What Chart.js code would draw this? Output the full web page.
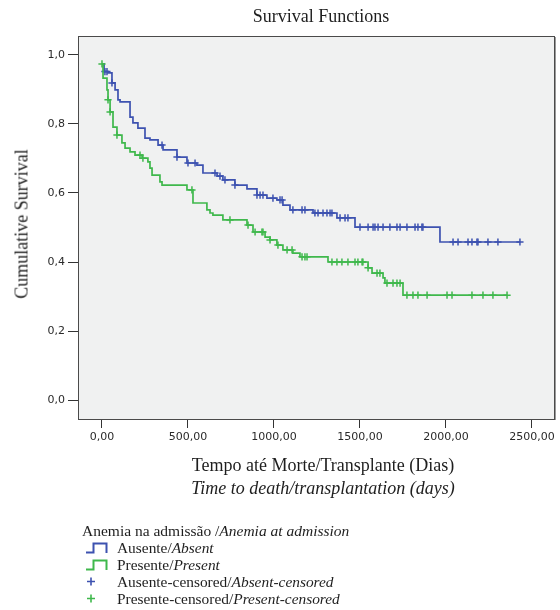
<!DOCTYPE html>
<html>
<head>
<meta charset="utf-8">
<script src="https://cdn.jsdelivr.net/npm/chart.js@4/dist/chart.umd.min.js"></script>
<style>
  html, body { margin: 0; padding: 0; background: #ffffff; }
  #wrap { position: relative; width: 560px; height: 610px; overflow: hidden; }
  #chart { position: absolute; left: 0; top: 0; }
  .t { position: absolute; font-family: "Liberation Serif", "Times New Roman", serif; color: #1e1e1e; white-space: nowrap; }
  .c { transform: translate(-50%, -50%); }
  #title { left: 321px; top: 16px; font-size: 18px; }
  #ytitle { left: 22px; top: 224px; font-size: 18px; transform: translate(-50%, -50%) rotate(-90deg); }
  #xt1 { left: 323px; top: 465px; font-size: 18px; }
  #xt2 { left: 323px; top: 488px; font-size: 18px; font-style: italic; }
  .leg { font-size: 15.4px; left: 117px; transform: translateY(-50%); }
  #legtitle { left: 82px; top: 531px; font-size: 15.5px; transform: translateY(-50%); }
  svg.ic { position: absolute; }
</style>
</head>
<body>
<div id="wrap">
  <canvas id="chart" width="560" height="610"></canvas>
  <div id="title" class="t c">Survival Functions</div>
  <div id="ytitle" class="t">Cumulative Survival</div>
  <div id="xt1" class="t c">Tempo até Morte/Transplante (Dias)</div>
  <div id="xt2" class="t c">Time to death/transplantation (days)</div>
  <div id="legtitle" class="t">Anemia na admissão /<i>Anemia at admission</i></div>

  <svg class="ic" style="left:84px;top:540px" width="26" height="16">
    <polyline points="2,12.5 9.5,12.5 9.5,3.5 22.5,3.5 22.5,13" fill="none" stroke="#3d52b0" stroke-width="2"/>
  </svg>
  <div class="t leg" style="top:548px">Ausente/<i>Absent</i></div>

  <svg class="ic" style="left:84px;top:557px" width="26" height="16">
    <polyline points="2,12.5 9.5,12.5 9.5,3.5 22.5,3.5 22.5,13" fill="none" stroke="#3fb84c" stroke-width="2"/>
  </svg>
  <div class="t leg" style="top:565px">Presente/<i>Present</i></div>

  <svg class="ic" style="left:84px;top:574px" width="16" height="16">
    <path d="M7,3.5 V11.5 M3,7.5 H11" stroke="#3d52b0" stroke-width="1.6" fill="none"/>
  </svg>
  <div class="t leg" style="top:582px">Ausente-censored/<i>Absent-censored</i></div>

  <svg class="ic" style="left:84px;top:591px" width="16" height="16">
    <path d="M7,3.5 V11.5 M3,7.5 H11" stroke="#3fb84c" stroke-width="1.6" fill="none"/>
  </svg>
  <div class="t leg" style="top:599px">Presente-censored/<i>Present-censored</i></div>
</div>

<script>
// Kaplan-Meier estimates by anemia at admission: days of each step and survival after it
const absentDays = [0, 12, 35, 58, 76, 93, 105, 163, 180, 209, 250, 279, 326, 355, 436, 494, 552, 587, 669, 703, 773, 843, 901, 959, 1017, 1052, 1093, 1227, 1366, 1471, 1965];
const absentSurvival = [0.974, 0.952, 0.948, 0.919, 0.899, 0.870, 0.864, 0.820, 0.803, 0.788, 0.759, 0.754, 0.739, 0.725, 0.704, 0.687, 0.681, 0.658, 0.649, 0.638, 0.623, 0.612, 0.594, 0.585, 0.580, 0.565, 0.551, 0.542, 0.528, 0.501, 0.458];
const absentCensored = [17, 29, 58, 349, 436, 500, 541, 657, 686, 715, 773, 901, 919, 936, 994, 1035, 1047, 1110, 1163, 1180, 1238, 1256, 1285, 1308, 1326, 1337, 1384, 1413, 1430, 1500, 1547, 1576, 1587, 1605, 1634, 1674, 1715, 1733, 1773, 1820, 1837, 1860, 1866, 2041, 2070, 2128, 2151, 2180, 2186, 2244, 2302, 2430];

const presentDays = [0, 6, 29, 35, 47, 64, 87, 116, 134, 163, 192, 233, 267, 279, 291, 337, 349, 494, 529, 610, 628, 645, 703, 843, 878, 948, 977, 1017, 1052, 1110, 1151, 1314, 1547, 1570, 1634, 1645, 1750];
const presentSurvival = [0.974, 0.933, 0.899, 0.870, 0.835, 0.791, 0.768, 0.745, 0.730, 0.719, 0.710, 0.701, 0.690, 0.672, 0.652, 0.632, 0.623, 0.609, 0.571, 0.551, 0.542, 0.536, 0.522, 0.507, 0.487, 0.472, 0.464, 0.449, 0.435, 0.426, 0.415, 0.400, 0.383, 0.368, 0.354, 0.339, 0.304];
const presentCensored = [0, 35, 47, 87, 221, 238, 523, 744, 849, 890, 930, 936, 977, 1023, 1076, 1105, 1163, 1180, 1192, 1337, 1366, 1395, 1430, 1471, 1488, 1512, 1517, 1547, 1599, 1616, 1657, 1692, 1715, 1733, 1773, 1808, 1837, 1890, 2006, 2035, 2151, 2215, 2273, 2355];

const xTickValues = [0, 500, 1000, 1500, 2000, 2500];
const yTickValues = [0, 0.2, 0.4, 0.6, 0.8, 1.0];

const BLUE = '#3d52b0';
const GREEN = '#3fb84c';

// survival value in force at a given day (step function)
function survivalAt(days, surv, t) {
  let s = surv[0];
  for (let i = 0; i < days.length; i++) if (days[i] <= t) s = surv[i];
  return s;
}
function stepPoints(days, surv, censored) {
  const pts = days.map((d, i) => ({ x: d, y: surv[i] }));
  const end = Math.max(...censored);
  if (end > days[days.length - 1]) pts.push({ x: end, y: surv[surv.length - 1] });
  return pts;
}
function censorPoints(days, surv, censored) {
  return censored.map(t => ({ x: t, y: survivalAt(days, surv, t) }));
}

const plotFrame = {
  id: 'plotFrame',
  beforeDraw(chart) {
    const { ctx, chartArea: a } = chart;
    ctx.save();
    ctx.fillStyle = '#f0f1f1';
    ctx.fillRect(a.left, a.top, a.right - a.left, a.bottom - a.top);
    ctx.restore();
  },
  afterDraw(chart) {
    const { ctx, chartArea: a } = chart;
    ctx.save();
    ctx.strokeStyle = '#4a4a4a';
    ctx.lineWidth = 1;
    ctx.strokeRect(Math.round(a.left) + 0.5, Math.round(a.top) + 0.5, Math.round(a.right - a.left), Math.round(a.bottom - a.top));
    ctx.strokeStyle = '#9a9a9a';
    ctx.beginPath();
    ctx.moveTo(Math.round(a.right) + 1.5, Math.round(a.top) + 1);
    ctx.lineTo(Math.round(a.right) + 1.5, Math.round(a.bottom) + 1);
    ctx.stroke();
    ctx.restore();
  }
};

const tickFont = { family: '"DejaVu Sans", "Liberation Sans", sans-serif', size: 11 };

new Chart(document.getElementById('chart'), {
  type: 'line',
  data: {
    datasets: [
      { label: 'Ausente/Absent', data: stepPoints(absentDays, absentSurvival, absentCensored),
        borderColor: BLUE, borderWidth: 1.7, stepped: 'before', pointRadius: 0, fill: false, order: 2 },
      { label: 'Presente/Present', data: stepPoints(presentDays, presentSurvival, presentCensored),
        borderColor: GREEN, borderWidth: 1.7, stepped: 'before', pointRadius: 0, fill: false, order: 1 },
      { label: 'Ausente-censored/Absent-censored', data: censorPoints(absentDays, absentSurvival, absentCensored),
        showLine: false, pointStyle: 'cross', pointRadius: 3.6, pointBorderWidth: 1.5,
        borderColor: BLUE, pointBorderColor: BLUE, order: 2 },
      { label: 'Presente-censored/Present-censored', data: censorPoints(presentDays, presentSurvival, presentCensored),
        showLine: false, pointStyle: 'cross', pointRadius: 3.6, pointBorderWidth: 1.5,
        borderColor: GREEN, pointBorderColor: GREEN, order: 1 }
    ]
  },
  options: {
    responsive: false,
    animation: false,
    devicePixelRatio: 1,
    layout: { padding: { top: 36, left: 0, right: 6, bottom: 0 } },
    plugins: { legend: { display: false }, title: { display: false }, tooltip: { enabled: false } },
    scales: {
      x: {
        type: 'linear', min: -139.5, max: 2628,
        afterBuildTicks(scale) { scale.ticks = xTickValues.map(v => ({ value: v })); },
        afterFit(scale) { scale.height = 191; },
        ticks: { font: tickFont, color: '#2a2a2a', padding: 3, maxRotation: 0,
                 callback: v => v.toFixed(2).replace('.', ',') },
        grid: { drawOnChartArea: false, drawTicks: true, tickLength: 9, color: '#333', lineWidth: 1 },
        border: { display: false }
      },
      y: {
        type: 'linear', min: -0.055, max: 1.055,
        afterBuildTicks(scale) { scale.ticks = yTickValues.map(v => ({ value: v })); },
        afterFit(scale) { scale.width = 78; },
        ticks: { font: tickFont, color: '#2a2a2a', padding: 3,
                 callback: v => v.toFixed(1).replace('.', ',') },
        grid: { drawOnChartArea: false, drawTicks: true, tickLength: 10, color: '#333', lineWidth: 1 },
        border: { display: false }
      }
    }
  },
  plugins: [plotFrame]
});
</script>
</body>
</html>
